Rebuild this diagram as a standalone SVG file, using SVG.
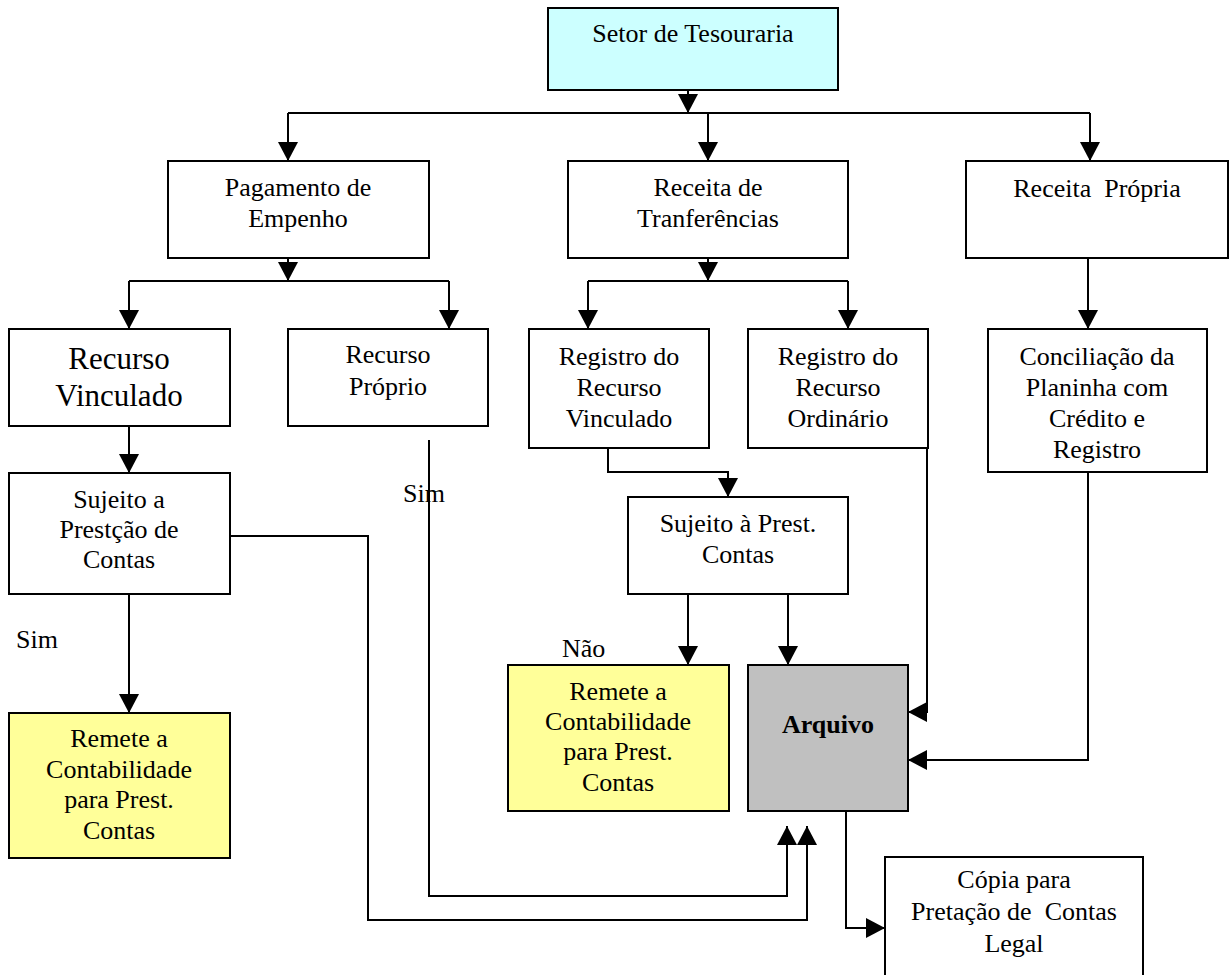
<svg xmlns="http://www.w3.org/2000/svg" width="1230" height="975" viewBox="0 0 1230 975">
  <style>
    .box { stroke: #000; stroke-width: 2; fill: #fff; }
    .cyan { fill: #ccffff; }
    .yellow { fill: #ffff99; }
    .gray { fill: #c0c0c0; }
    text { font-family: "Liberation Serif", "Times New Roman", serif; font-size: 26px; fill: #000; }
    .c { text-anchor: middle; }
    .big { font-size: 31px; }
    .bold { font-weight: bold; }
    .conn path { fill: none; stroke: #000; stroke-width: 2; }
  </style>
  <defs>
    <marker id="arr" markerWidth="20" markerHeight="20" refX="19" refY="10" orient="auto" markerUnits="userSpaceOnUse">
      <path d="M0,0 L19,10 L0,20 z" fill="#000"/>
    </marker>
  </defs>
  <rect width="1230" height="975" fill="#fff"/>

  <!-- connectors -->
  <g class="conn">
    <path d="M688,90 V113" marker-end="url(#arr)"/>
    <path d="M288,113 H1090"/>
    <path d="M288,113 V161" marker-end="url(#arr)"/>
    <path d="M708,113 V161" marker-end="url(#arr)"/>
    <path d="M1090,113 V161" marker-end="url(#arr)"/>

    <path d="M288,258 V281" marker-end="url(#arr)"/>
    <path d="M129,281 H449"/>
    <path d="M129,281 V329" marker-end="url(#arr)"/>
    <path d="M449,281 V329" marker-end="url(#arr)"/>

    <path d="M708,258 V281" marker-end="url(#arr)"/>
    <path d="M588,281 H848"/>
    <path d="M588,281 V329" marker-end="url(#arr)"/>
    <path d="M848,281 V329" marker-end="url(#arr)"/>

    <path d="M1088,258 V329" marker-end="url(#arr)"/>

    <path d="M129,426 V473" marker-end="url(#arr)"/>
    <path d="M129,594 V713" marker-end="url(#arr)"/>

    <path d="M230,536 H368 V920 H807 V826" marker-end="url(#arr)"/>
    <path d="M429,440 V896 H787 V826" marker-end="url(#arr)"/>

    <path d="M608,448 V472 H728 V497" marker-end="url(#arr)"/>
    <path d="M688,594 V665" marker-end="url(#arr)"/>
    <path d="M788,594 V665" marker-end="url(#arr)"/>

    <path d="M927,448 V712 H908" marker-end="url(#arr)"/>
    <path d="M1088,472 V760 H908" marker-end="url(#arr)"/>

    <path d="M846,810 V928 H885" marker-end="url(#arr)"/>
  </g>

  <!-- labels on connectors -->
  <g id="labels">
    <text x="16" y="648">Sim</text>
    <text x="403" y="502">Sim</text>
    <text x="562" y="657">Não</text>
  </g>

  <!-- nodes -->
  <g id="setor">
    <rect class="box cyan" x="548" y="8" width="290" height="82"/>
    <text class="c" x="693" y="42">Setor de Tesouraria</text>
  </g>
  <g id="pagamento">
    <rect class="box" x="168" y="161" width="261" height="97"/>
    <text class="c" x="298" y="196">Pagamento de</text>
    <text class="c" x="298" y="227">Empenho</text>
  </g>
  <g id="receita-transf">
    <rect class="box" x="568" y="161" width="280" height="97"/>
    <text class="c" x="708" y="196">Receita de</text>
    <text class="c" x="708" y="227">Tranferências</text>
  </g>
  <g id="receita-propria">
    <rect class="box" x="966" y="161" width="262" height="97"/>
    <text class="c" x="1097" y="197" xml:space="preserve">Receita  Própria</text>
  </g>
  <g id="recurso-vinculado">
    <rect class="box" x="9" y="329" width="221" height="97"/>
    <text class="c big" x="119" y="369">Recurso</text>
    <text class="c big" x="119" y="406">Vinculado</text>
  </g>
  <g id="recurso-proprio">
    <rect class="box" x="288" y="329" width="200" height="97"/>
    <text class="c" x="388" y="363">Recurso</text>
    <text class="c" x="388" y="395">Próprio</text>
  </g>
  <g id="registro-vinculado">
    <rect class="box" x="529" y="329" width="180" height="119"/>
    <text class="c" x="619" y="365">Registro do</text>
    <text class="c" x="619" y="396">Recurso</text>
    <text class="c" x="619" y="427">Vinculado</text>
  </g>
  <g id="registro-ordinario">
    <rect class="box" x="748" y="329" width="180" height="119"/>
    <text class="c" x="838" y="365">Registro do</text>
    <text class="c" x="838" y="396">Recurso</text>
    <text class="c" x="838" y="427">Ordinário</text>
  </g>
  <g id="conciliacao">
    <rect class="box" x="988" y="329" width="219" height="143"/>
    <text class="c" x="1097" y="365">Conciliação da</text>
    <text class="c" x="1097" y="396">Planinha com</text>
    <text class="c" x="1097" y="427">Crédito e</text>
    <text class="c" x="1097" y="458">Registro</text>
  </g>
  <g id="sujeito-prestacao">
    <rect class="box" x="9" y="473" width="221" height="121"/>
    <text class="c" x="119" y="508">Sujeito a</text>
    <text class="c" x="119" y="538">Prestção de</text>
    <text class="c" x="119" y="568">Contas</text>
  </g>
  <g id="sujeito-prest">
    <rect class="box" x="628" y="497" width="220" height="97"/>
    <text class="c" x="738" y="532">Sujeito à Prest.</text>
    <text class="c" x="738" y="563">Contas</text>
  </g>
  <g id="remete-esq">
    <rect class="box yellow" x="9" y="713" width="221" height="145"/>
    <text class="c" x="119" y="747">Remete a</text>
    <text class="c" x="119" y="778">Contabilidade</text>
    <text class="c" x="119" y="808">para Prest.</text>
    <text class="c" x="119" y="839">Contas</text>
  </g>
  <g id="remete-centro">
    <rect class="box yellow" x="508" y="665" width="221" height="146"/>
    <text class="c" x="618" y="700">Remete a</text>
    <text class="c" x="618" y="730">Contabilidade</text>
    <text class="c" x="618" y="760">para Prest.</text>
    <text class="c" x="618" y="791">Contas</text>
  </g>
  <g id="arquivo">
    <rect class="box gray" x="748" y="665" width="160" height="146"/>
    <text class="c bold" x="828" y="733">Arquivo</text>
  </g>
  <g id="copia">
    <rect class="box" x="885" y="857" width="258" height="130"/>
    <text class="c" x="1014" y="888">Cópia para</text>
    <text class="c" x="1014" y="920" xml:space="preserve">Pretação de  Contas</text>
    <text class="c" x="1014" y="952">Legal</text>
  </g>
</svg>
